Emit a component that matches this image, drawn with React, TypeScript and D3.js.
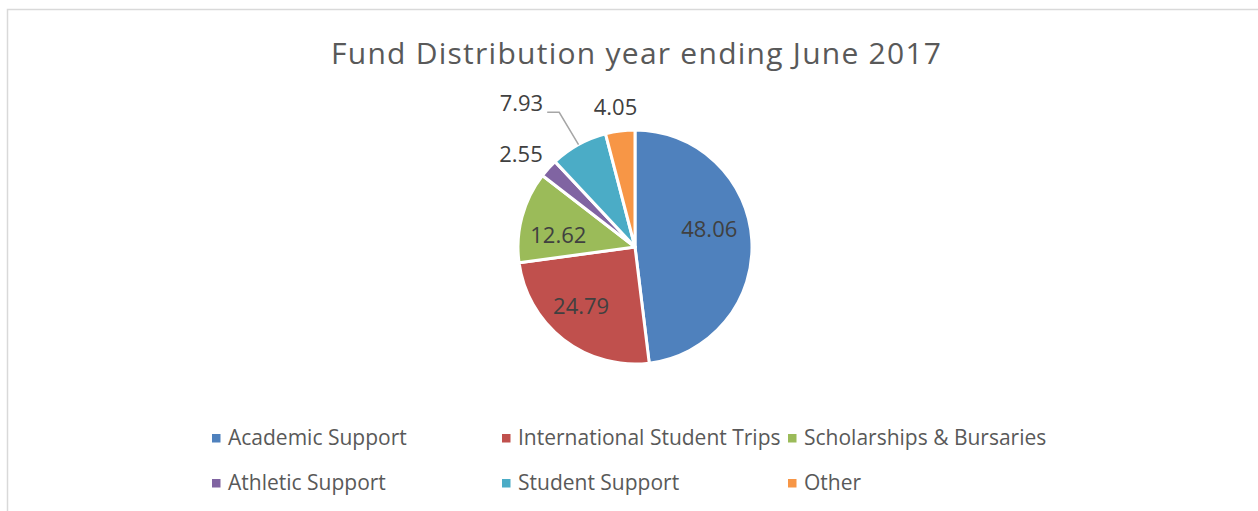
import React from "react";
import * as d3 from "d3";

const categories = [
  "Academic Support",
  "International Student Trips",
  "Scholarships & Bursaries",
  "Athletic Support",
  "Student Support",
  "Other",
];
const values = [48.06, 24.79, 12.62, 2.55, 7.93, 4.05];
const colors = ["#4F81BD", "#C0504D", "#9BBB59", "#8064A2", "#4BACC6", "#F79646"];
const title = "Fund Distribution year ending June 2017";

const W = 1258;
const H = 511;
const FONT = "'Open Sans', sans-serif";

export default function App() {
  const cx = 635;
  const cy = 247;
  const R = 117;

  const pie = d3
    .pie<number>()
    .sort(null)
    .value((d) => d)
    .startAngle(0)
    .endAngle(2 * Math.PI);
  const arcs = pie(values);
  const arc = d3.arc<d3.PieArcDatum<number>>().innerRadius(0).outerRadius(R);
  const labelArcInner = d3.arc<d3.PieArcDatum<number>>().innerRadius(R * 1.34).outerRadius(0);

  const legendCols = [212, 502, 788];
  const legendRows = [445, 490];

  // small layout nudges (Excel "best fit" placement)
  const nudges: Record<number, [number, number]> = {
    0: [-4, -13],
    1: [-6, -3],
    2: [-1, 9],
    3: [-6, 6],
    5: [-1, 5],
  };

  const mid = (a: d3.PieArcDatum<number>) => (a.startAngle + a.endAngle) / 2;
  const polar = (ang: number, r: number): [number, number] => [
    Math.sin(ang) * r,
    -Math.cos(ang) * r,
  ];

  return (
    <div style={{ position: "absolute", left: 0, top: 0 }}>
      <svg width={W} height={H} style={{ display: "block" }}>
        <rect x={0} y={0} width={W} height={H} fill="#fff" />
        <rect x={7.5} y={9.5} width={W + 20} height={H + 20} fill="none" stroke="#d9d9d9" strokeWidth={1.5} />
        <text
          x={636}
          y={64}
          textAnchor="middle"
          fontFamily={FONT}
          fontSize={30}
          fill="#595959"
          textLength={610}
          lengthAdjust="spacing"
        >
          {title}
        </text>
        <g transform={`translate(${cx},${cy})`}>
          {arcs.map((a, i) => (
            <path key={i} d={arc(a) || ""} fill={colors[i]} stroke="#fff" strokeWidth={3} strokeLinejoin="round" />
          ))}
          {arcs.map((a, i) => {
            const v = values[i];
            const label = v.toFixed(2);
            const m = mid(a);
            const [nx, ny] = nudges[i] || [0, 0];
            if (v >= 10) {
              const [x, y] = labelArcInner.centroid(a);
              return (
                <text key={i} x={x + nx} y={y + ny} dy="0.35em" textAnchor="middle" fontFamily={FONT} fontSize={22} fill="#404040">
                  {label}
                </text>
              );
            }
            if (i === 4) {
              const [ex, ey] = polar(m, R);
              const [kx, ky] = polar(m, R + 38);
              const ly = ky + 1;
              return (
                <g key={i}>
                  <polyline
                    points={`${ex},${ey} ${kx - 1},${ly} ${kx - 13},${ly}`}
                    fill="none"
                    stroke="#a6a6a6"
                    strokeWidth={1.5}
                  />
                  <text x={kx - 17} y={ly} dy="-0.05em" textAnchor="end" fontFamily={FONT} fontSize={22} fill="#404040">
                    {label}
                  </text>
                </g>
              );
            }
            const [x, y] = polar(m, R + 29);
            return (
              <text key={i} x={x + nx} y={y + ny} dy="0.35em" textAnchor="middle" fontFamily={FONT} fontSize={22} fill="#404040">
                {label}
              </text>
            );
          })}
        </g>
        {categories.map((c, i) => {
          const col = i % 3;
          const row = Math.floor(i / 3);
          const x = legendCols[col];
          const y = legendRows[row];
          return (
            <g key={c}>
              <rect x={x} y={y - 11} width={8.5} height={8.5} fill={colors[i]} />
              <text x={x + 16} y={y} fontFamily={FONT} fontSize={21} fill="#595959">
                {c}
              </text>
            </g>
          );
        })}
      </svg>
    </div>
  );
}
